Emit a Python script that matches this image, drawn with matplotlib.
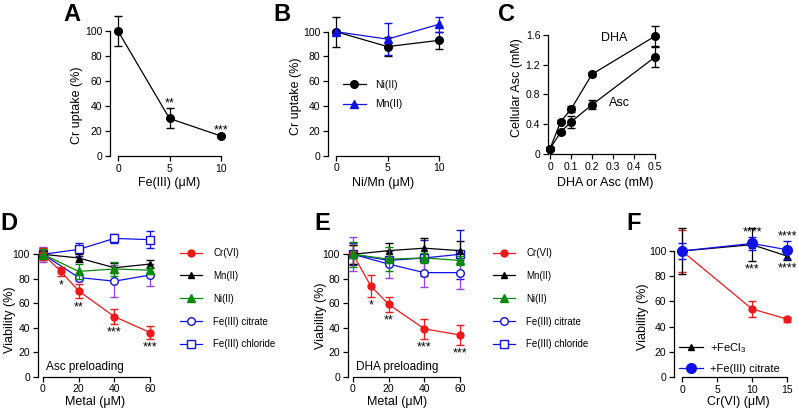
import matplotlib
matplotlib.use("Agg")
import matplotlib.pyplot as plt
from matplotlib.lines import Line2D

plt.rcParams['font.family'] = ['Liberation Sans', 'DejaVu Sans']
plt.rcParams['mathtext.fontset'] = 'custom'
plt.rcParams['mathtext.rm'] = 'Liberation Sans'

# ---- data ----
A_x = [0, 5, 10]
A_y = [100, 30, 16]
A_err = [12, 8, 1]
A_stars = ["", "**", "***"]

B_x = [0, 5, 10]
B_ni = [100, 88, 93]
B_ni_err = [12, 8, 7]
B_mn = [100, 94, 106]
B_mn_err = [1, 13, 6]

C_x = [0, 0.05, 0.1, 0.2, 0.5]
C_dha = [0.07, 0.43, 0.60, 1.07, 1.58]
C_dha_err = [0.02, 0.02, 0.04, 0.03, 0.13]
C_asc = [0.07, 0.29, 0.43, 0.66, 1.30]
C_asc_err = [0.02, 0.02, 0.08, 0.06, 0.13]

cr_x = [0, 10, 20, 40, 60]
metal_x = [0, 20, 40, 60]
cr_stars = ["", "*", "**", "***", "***"]

D_cr = [100, 86, 70, 49, 36]
D_cr_err = [5, 4, 6, 6, 5]
D_mn = [100, 97, 89, 92]
D_mn_err = [3, 3, 4, 3]
D_ni = [100, 86, 88, 87]
D_ni_err = [4, 6, 6, 3]
D_cit = [100, 81, 78, 83]
D_cit_err = [6, 3, 13, 9]
D_chl = [100, 104, 113, 112]
D_chl_err = [5, 5, 4, 7]

E_cr = [100, 74, 59, 39, 34]
E_cr_err = [8, 9, 6, 8, 8]
E_mn = [100, 103, 105, 103]
E_mn_err = [8, 6, 8, 8]
E_ni = [100, 96, 97, 95]
E_ni_err = [10, 10, 4, 4]
E_cit = [100, 92, 85, 85]
E_cit_err = [14, 11, 12, 13]
E_chl = [100, 95, 97, 100]
E_chl_err = [9, 3, 15, 20]

F_x = [0, 10, 15]
F_cr = [100, 54, 46]
F_cr_err = [17, 6, 2]
F_fecl3 = [100, 105, 96]
F_fecl3_err = [18, 13, 3]
F_cit = [100, 106, 101]
F_cit_err = [6, 5, 7]
F_stars_up = ["", "****", "****"]
F_stars_dn = ["", "***", "****"]

metal_labels = ["Cr(VI)", "Mn(II)", "Ni(II)", "Fe(III) citrate", "Fe(III) chloride"]

RED = "#f01818"
BLUE = "#1010e8"
GREEN = "#0a8a0a"
PURPLE = "#9940e8"

W, H = 798, 411
fig = plt.figure(figsize=(W / 100, H / 100), dpi=100)


def make_ax(xref, yref, xlim, ylim):
    # xref/yref: ((data0, px0), (data1, px1)) measured on the reference picture
    (dx0, px0), (dx1, px1) = xref
    (dy0, py0), (dy1, py1) = yref
    sx = (px1 - px0) / (dx1 - dx0)
    sy = (py1 - py0) / (dy1 - dy0)
    left = px0 + (xlim[0] - dx0) * sx
    right = px0 + (xlim[1] - dx0) * sx
    bottom = py0 + (ylim[0] - dy0) * sy
    top = py0 + (ylim[1] - dy0) * sy
    ax = fig.add_axes([left / W, 1 - bottom / H, (right - left) / W, (bottom - top) / H])
    ax.set_xlim(xlim)
    ax.set_ylim(ylim)
    for s in ("top", "right"):
        ax.spines[s].set_visible(False)
    for s in ("left", "bottom"):
        ax.spines[s].set_linewidth(0.9)
    ax.tick_params(direction="out", length=3.5, width=0.9, labelsize=7.5, pad=2)
    return ax


def finish(ax, xt, yt, xlabel, ylabel, xpos, ypos, xfmt=None):
    ax.set_xticks(xt)
    ax.set_yticks(yt)
    if xfmt:
        ax.set_xticklabels(xfmt)
    ax.spines["bottom"].set_bounds(xt[0], xt[-1])
    ax.spines["left"].set_bounds(yt[0], yt[-1])
    ax.set_xlabel(xlabel, fontsize=9, va="center")
    ax.set_ylabel(ylabel, fontsize=9, va="center")
    ax.xaxis.set_label_coords(xpos[0] / W, 1 - xpos[1] / H, transform=fig.transFigure)
    ax.yaxis.set_label_coords(ypos[0] / W, 1 - ypos[1] / H, transform=fig.transFigure)


def series(ax, x, y, e, color, marker, ms=5, ecolor=None, mfc=None, z=3):
    ax.errorbar(x, y, yerr=e, color=color, ecolor=ecolor or color, marker=marker,
                ms=ms, mfc=mfc or color, mec=color, mew=1, lw=0.9, elinewidth=0.9,
                capsize=3, capthick=0.9, zorder=z, clip_on=False)


def stars_below(ax, x, y, e, labels, fs=9):
    for xi, yi, ei, s in zip(x, y, e, labels):
        if s:
            ax.annotate(s, (xi, yi - ei), xytext=(0, -2), textcoords="offset points",
                        ha="center", va="top", fontsize=fs)


def stars_above(ax, x, y, e, labels, fs=9):
    for xi, yi, ei, s in zip(x, y, e, labels):
        if s:
            ax.annotate(s, (xi, yi + ei), xytext=(0, -1), textcoords="offset points",
                        ha="center", va="bottom", fontsize=fs)


# ---- A ----
ax = make_ax(((0, 118), (10, 221)), ((0, 156), (100, 31)), (-0.78, 10.6), (0, 115))
series(ax, A_x, A_y, A_err, "k", "o", ms=5.5)
stars_above(ax, A_x, A_y, A_err, A_stars)
finish(ax, [0, 5, 10], [0, 20, 40, 60, 80, 100], "Fe(III) (μM)", "Cr uptake (%)",
       (169, 183), (77, 105))

# ---- B ----
ax = make_ax(((0, 336), (10, 439)), ((0, 155.7), (100, 31.7)), (-0.8, 10.6), (0, 115))
series(ax, B_x, B_ni, B_ni_err, "k", "o", ms=5.5)
series(ax, B_x, B_mn, B_mn_err, BLUE, "^", ms=5.5)
hB = [Line2D([], [], color="k", marker="o", ms=5.5, lw=0.9),
      Line2D([], [], color=BLUE, marker="^", ms=5.5, lw=0.9)]
ax.legend(hB, ["Ni(II)", "Mn(II)"], loc="upper left", bbox_to_anchor=(343 / W, 1 - 80 / H),
          bbox_transform=fig.transFigure, frameon=False, fontsize=7.5, handlelength=2.2,
          handletextpad=0.9, labelspacing=0.9, borderpad=0, borderaxespad=0)
finish(ax, [0, 5, 10], [0, 20, 40, 60, 80, 100], "Ni/Mn (μM)", "Cr uptake (%)",
       (383, 183), (296, 96))

# ---- C ----
ax = make_ax(((0, 550), (0.5, 655)), ((0, 154), (1.6, 34.7)), (-0.01, 0.52), (0, 1.8))
series(ax, C_x, C_dha, C_dha_err, "k", "o", ms=5.5)
series(ax, C_x, C_asc, C_asc_err, "k", "o", ms=5.5)
ax.text(0.305, 1.55, "DHA", fontsize=9, ha="center", va="center")
ax.text(0.33, 0.68, "Asc", fontsize=9, ha="center", va="center")
finish(ax, [0, 0.1, 0.2, 0.3, 0.4, 0.5], [0, 0.4, 0.8, 1.2, 1.6], "DHA or Asc (mM)",
       "Cellular Asc (mM)", (605, 183), (517, 88),
       xfmt=["0", "0.1", "0.2", "0.3", "0.4", "0.5"])
ax.set_yticklabels(["0", "0.4", "0.8", "1.2", "1.6"])


# ---- D / E ----
def viability(px0, px60, cr, cr_e, mn, mn_e, ni, ni_e, cit, cit_e, chl, chl_e, stars, note,
              legx, xlab, ylab):
    ax = make_ax(((0, px0), (60, px60)), ((0, 376.5), (100, 254.3)), (-3, 63), (0, 124))
    series(ax, metal_x, chl, chl_e, BLUE, "s", ms=5.5, mfc="white", z=3)
    series(ax, metal_x, cit, cit_e, BLUE, "o", ms=5.5, mfc="white", ecolor=PURPLE, z=3)
    series(ax, cr_x, cr, cr_e, RED, "o", ms=5, z=4)
    series(ax, metal_x, mn, mn_e, "k", "^", ms=5, z=4)
    series(ax, metal_x, ni, ni_e, GREEN, "^", ms=5.5, z=5)
    stars_below(ax, cr_x, cr, cr_e, stars)
    ax.text(0.07, 0.02, note, transform=ax.transAxes, fontsize=8.5, ha="left", va="bottom")
    finish(ax, [0, 20, 40, 60], [0, 20, 40, 60, 80, 100], "Metal (μM)", "Viability (%)",
           xlab, ylab)
    hs = [Line2D([], [], color=RED, marker="o", ms=5, lw=0.9),
          Line2D([], [], color="k", marker="^", ms=5, lw=0.9),
          Line2D([], [], color=GREEN, marker="^", ms=6, lw=0.9),
          Line2D([], [], color=BLUE, marker="o", ms=5.5, mfc="white", lw=0.9),
          Line2D([], [], color=BLUE, marker="s", ms=5.5, mfc="white", lw=0.9)]
    ax.legend(hs, metal_labels, loc="upper left", bbox_to_anchor=(legx / W, 1 - 248 / H),
              bbox_transform=fig.transFigure, frameon=False, fontsize=7, handlelength=2.3,
              handletextpad=1.1, labelspacing=1.32, borderpad=0, borderaxespad=0)
    return ax


viability(43, 150, D_cr, D_cr_err, D_mn, D_mn_err, D_ni, D_ni_err, D_cit, D_cit_err,
          D_chl, D_chl_err, cr_stars, "Asc preloading", 180, (95, 402), (10, 320))
viability(353, 460, E_cr, E_cr_err, E_mn, E_mn_err, E_ni, E_ni_err, E_cit, E_cit_err,
          E_chl, E_chl_err, cr_stars, "DHA preloading", 493, (397, 402), (321, 316))

# ---- F ----
ax = make_ax(((0, 682), (15, 787)), ((0, 377), (100, 251)), (-1.14, 15.6), (0, 122))
series(ax, F_x, F_cr, F_cr_err, RED, "o", ms=5, z=3)
series(ax, F_x, F_fecl3, F_fecl3_err, "k", "^", ms=5, z=4)
series(ax, F_x, F_cit, F_cit_err, BLUE, "o", ms=7, z=5)
stars_above(ax, F_x, F_cit, F_cit_err, F_stars_up)
stars_below(ax, F_x, F_fecl3, F_fecl3_err, F_stars_dn)
hF = [Line2D([], [], color="k", marker="^", ms=5, lw=0.9),
      Line2D([], [], color=BLUE, marker="o", ms=7, lw=0.9)]
ax.legend(hF, ["+FeCl$_3$", "+Fe(III) citrate"], loc="upper left",
          bbox_to_anchor=(679 / W, 1 - 341 / H), bbox_transform=fig.transFigure,
          frameon=False, fontsize=8, handlelength=2.2, handletextpad=0.6,
          labelspacing=0.8, borderpad=0, borderaxespad=0)
finish(ax, [0, 5, 10, 15], [0, 20, 40, 60, 80, 100], "Cr(VI) (μM)", "Viability (%)",
       (738, 402), (643, 317))

# ---- panel letters ----
for letter, px, py in [("A", 63, 3), ("B", 273, 3), ("C", 498, 3),
                       ("D", 0, 212), ("E", 314, 212), ("F", 626, 212)]:
    fig.text(px / W, 1 - py / H, letter, fontsize=17, fontweight="bold", ha="left", va="top")

fig.savefig("out.png", dpi=100)
